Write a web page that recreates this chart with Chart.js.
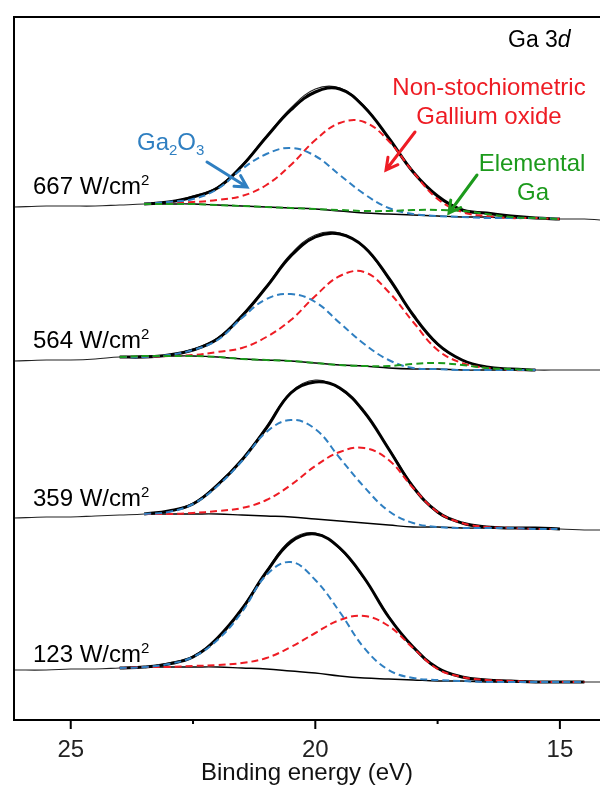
<!DOCTYPE html>
<html lang="en">
<head>
  <meta charset="UTF-8" />
  <title>Ga 3d XPS spectra</title>
  <script src="https://cdn.jsdelivr.net/npm/chart.js"></script>
  <style>
    html, body { margin: 0; padding: 0; background: #fff; }
  </style>
</head>
<body>
  <canvas id="xps" width="600" height="785"></canvas>

  <script>
    const _ = null;

    // binding energy grid (eV), shared by every curve
    const energy = [26.16, 25.5, 25, 24.5, 24, 23.5, 23, 22.5, 22, 21.5, 21, 20.5, 20, 19.5, 19, 18.5, 18, 17.5, 17, 16.5, 16, 15.5, 15, 14.5, 14.18];
    const xTicks = [25, 20, 15];
    const xMinorTicks = [22.5, 17.5];

    // 667 W/cm2
    const raw667   = [513, 514, 514, 514, 515, 516, 518, 524, 533, 555, 584, 612, 631, 632, 614, 581, 549, 523, 511, 506, 503, 502, 501, 501, 500];
    const fit667   = [_, _, _, _, _, 516, 518, 523, 532, 554, 583, 610, 628, 631, 613, 582, 548, 524, 510, 507, 504, 502, 501, _, _];
    const ga2o3667 = [_, _, _, _, _, 516, 518, 521, 531, 551, 566, 572, 564, 545, 526, 512, 506, 504, 503, 502, 502, 502, 501, _, _];
    const nonst667 = [_, _, _, _, _, 516, 517, 518, 520, 524, 535, 555, 580, 597, 598, 579, 548, 521, 508, 504, 502, 502, 501, _, _];
    const elem667  = [_, _, _, _, _, 516, 516, 516, 515, 514, 513, 512, 511, 510, 509, 509, 510, 510, 509, 506, 503, 502, 501, _, _];
    const bg667    = [_, _, _, _, _, 516, 516, 516, 515, 514, 513, 512, 511, 509, 507, 506, 505, 504, 503, 503, 502, 502, 501, _, _];

    // 564 W/cm2
    const raw564   = [359, 360, 360, 361, 363, 363, 365, 371, 382, 405, 434, 466, 485, 487, 472, 441, 404, 375, 360, 353, 351, 350, 350, 350, 350];
    const fit564   = [_, _, _, _, 363, 363, 365, 370, 381, 404, 433, 464, 483, 486, 473, 442, 405, 376, 360, 353, 351, 350, _, _, _];
    const ga2o3564 = [_, _, _, _, 363, 363, 365, 370, 380, 402, 421, 426, 418, 397, 376, 360, 352, 351, 350, 350, 350, 350, _, _, _];
    const nonst564 = [_, _, _, _, 363, 363, 364, 365, 368, 372, 383, 400, 424, 444, 448, 428, 398, 370, 357, 352, 350, 350, _, _, _];
    const elem564  = [_, _, _, _, 363, 364, 364, 364, 363, 361, 360, 359, 357, 355, 354, 354, 356, 357, 355, 352, 351, 350, _, _, _];
    const bg564    = [_, _, _, _, 363, 364, 364, 364, 363, 361, 360, 359, 357, 355, 354, 352, 351, 351, 350, 350, 350, 350, _, _, _];

    // 359 W/cm2
    const raw359   = [202, 203, 203, 204, 205, 206, 209, 217, 236, 261, 293, 328, 340, 331, 307, 272, 234, 207, 197, 193, 192, 191, 191, 190, 190];
    const fit359   = [_, _, _, _, _, 206, 209, 216, 235, 260, 292, 327, 338, 332, 308, 271, 233, 208, 197, 193, 192, 192, 191, _, _];
    const ga2o3359 = [_, _, _, _, _, 206, 208, 216, 234, 259, 288, 300, 291, 262, 233, 209, 197, 193, 192, 192, 192, 191, 191, _, _];
    const nonst359 = [_, _, _, _, _, 206, 206, 207, 209, 212, 220, 235, 254, 268, 272, 260, 232, 208, 197, 193, 192, 191, 191, _, _];
    const bg359    = [_, _, _, _, _, 206, 206, 206, 206, 205, 204, 203, 201, 199, 197, 195, 193, 193, 192, 192, 192, 191, 191, _, _];

    // 123 W/cm2
    const raw123   = [50, 50, 51, 51, 52, 53, 57, 64, 82, 112, 149, 180, 187, 171, 141, 104, 72, 51, 43, 40, 39, 38, 38, 38, 38];
    const fit123   = [_, _, _, _, 52, 53, 56, 63, 82, 111, 148, 178, 186, 172, 142, 103, 73, 52, 43, 40, 39, 38, 38, 38, _];
    const ga2o3123 = [_, _, _, _, 52, 53, 56, 63, 80, 108, 145, 158, 140, 108, 72, 50, 42, 40, 39, 38, 38, 38, 38, 38, _];
    const nonst123 = [_, _, _, _, 52, 53, 53, 54, 55, 57, 62, 73, 87, 100, 104, 94, 72, 51, 43, 40, 39, 38, 38, 38, _];
    const bg123    = [_, _, _, _, 52, 53, 53, 53, 53, 52, 51, 49, 47, 44, 42, 41, 40, 39, 39, 38, 38, 38, 38, 38, _];

    const FONT = "'Liberation Sans', Arial, sans-serif";
    const BLUE = '#2f7fc1';
    const RED = '#ee1c24';
    const GREEN = '#1c9a1c';

    function pts(values) {
      return energy.map((e, i) => ({ x: e, y: values[i] })).filter(p => p.y !== null);
    }

    function dashed(values, color) {
      return { data: pts(values), borderColor: color, borderWidth: 2, borderDash: [7, 4] };
    }
    function solid(values, width, color) {
      return { data: pts(values), borderColor: color || '#000', borderWidth: width };
    }

    // dashed components first so they sit on top of the black lines
    const datasets = [
      dashed(elem667, GREEN), dashed(elem564, GREEN),
      dashed(ga2o3667, BLUE), dashed(ga2o3564, BLUE), dashed(ga2o3359, BLUE), dashed(ga2o3123, BLUE),
      dashed(nonst667, RED), dashed(nonst564, RED), dashed(nonst359, RED), dashed(nonst123, RED),
      solid(fit667, 3), solid(fit564, 3), solid(fit359, 3), solid(fit123, 3),
      solid(raw667, 1.1, '#222'), solid(raw564, 1.1, '#222'), solid(raw359, 1.1, '#222'), solid(raw123, 1.1, '#222'),
      solid(bg667, 1.4), solid(bg564, 1.4), solid(bg359, 1.4), solid(bg123, 1.4)
    ];

    // text made of pieces: normal, superscript, subscript
    function richText(ctx, pieces, x, y, align, color) {
      let w = 0;
      pieces.forEach(p => {
        ctx.font = (p.italic ? 'italic ' : '') + p.size + 'px ' + FONT;
        p.w = ctx.measureText(p.t).width;
        w += p.w;
      });
      let cx = align === 'center' ? x - w / 2 : x;
      ctx.fillStyle = color;
      ctx.textBaseline = 'alphabetic';
      ctx.textAlign = 'left';
      pieces.forEach(p => {
        ctx.font = (p.italic ? 'italic ' : '') + p.size + 'px ' + FONT;
        ctx.fillText(p.t, cx, y + (p.dy || 0));
        cx += p.w;
      });
    }

    function arrow(ctx, x1, y1, x2, y2, color) {
      const a = Math.atan2(y2 - y1, x2 - x1);
      const h = 13;
      ctx.save();
      ctx.strokeStyle = color;
      ctx.lineWidth = 3;
      ctx.lineCap = 'round';
      ctx.beginPath();
      ctx.moveTo(x1, y1);
      ctx.lineTo(x2, y2);
      ctx.moveTo(x2 - h * Math.cos(a - 0.5), y2 - h * Math.sin(a - 0.5));
      ctx.lineTo(x2, y2);
      ctx.lineTo(x2 - h * Math.cos(a + 0.5), y2 - h * Math.sin(a + 0.5));
      ctx.stroke();
      ctx.restore();
    }

    const frameAndLabels = {
      id: 'frameAndLabels',
      afterDraw(chart) {
        const ctx = chart.ctx;
        const area = chart.chartArea;
        const xs = chart.scales.x;

        ctx.save();
        ctx.strokeStyle = '#000';
        ctx.lineWidth = 2;
        ctx.beginPath();
        ctx.moveTo(area.right, area.top);
        ctx.lineTo(area.left, area.top);
        ctx.lineTo(area.left, area.bottom);
        ctx.lineTo(area.right, area.bottom);
        ctx.stroke();

        ctx.beginPath();
        xTicks.forEach(v => {
          const px = xs.getPixelForValue(v);
          ctx.moveTo(px, area.bottom);
          ctx.lineTo(px, area.bottom + 9);
        });
        xMinorTicks.forEach(v => {
          const px = xs.getPixelForValue(v);
          ctx.moveTo(px, area.bottom);
          ctx.lineTo(px, area.bottom + 4);
        });
        ctx.stroke();

        // power density labels
        [['667', 194], ['564', 348], ['359', 506], ['123', 662]].forEach(([p, y]) => {
          richText(ctx, [{ t: p + ' W/cm', size: 24 }, { t: '2', size: 15, dy: -9 }], 33, y, 'left', '#000');
        });

        richText(ctx, [{ t: 'Ga 3', size: 23 }, { t: 'd', size: 23, italic: true }], 508, 47, 'left', '#000');

        richText(ctx, [{ t: 'Non-stochiometric', size: 24 }], 489, 95, 'center', RED);
        richText(ctx, [{ t: 'Gallium oxide', size: 24 }], 489, 124, 'center', RED);
        richText(ctx, [{ t: 'Elemental', size: 24 }], 532, 171, 'center', GREEN);
        richText(ctx, [{ t: 'Ga', size: 24 }], 533, 200, 'center', GREEN);
        richText(ctx, [
          { t: 'Ga', size: 24 }, { t: '2', size: 15, dy: 5 },
          { t: 'O', size: 24 }, { t: '3', size: 15, dy: 5 }
        ], 137, 150, 'left', BLUE);

        arrow(ctx, 207, 162, 247, 187, BLUE);
        arrow(ctx, 415, 132, 386, 170, RED);
        arrow(ctx, 477, 175, 449, 213, GREEN);
        ctx.restore();
      }
    };

    new Chart(document.getElementById('xps'), {
      type: 'line',
      data: { datasets },
      options: {
        responsive: false,
        animation: false,
        devicePixelRatio: 1,
        layout: { padding: { left: 14, top: 17, right: 0, bottom: 0 } },
        elements: {
          point: { radius: 0 },
          line: { tension: 0.4, fill: false }
        },
        plugins: { legend: { display: false }, tooltip: { enabled: false } },
        scales: {
          x: {
            type: 'linear',
            reverse: true,
            min: 14.18,
            max: 26.16,
            grid: { display: false },
            border: { display: false },
            afterBuildTicks: s => { s.ticks = xTicks.map(v => ({ value: v })); },
            afterFit: s => { s.height = 65; },
            ticks: {
              padding: 8,
              color: '#222',
              font: { family: FONT, size: 24, lineHeight: 1.2 }
            },
            title: {
              display: true,
              text: 'Binding energy (eV)',
              color: '#111',
              padding: 0,
              font: { family: FONT, size: 24, lineHeight: 1 }
            }
          },
          y: { display: false, min: 0, max: 703 }
        }
      },
      plugins: [frameAndLabels]
    });
  </script>
</body>
</html>
